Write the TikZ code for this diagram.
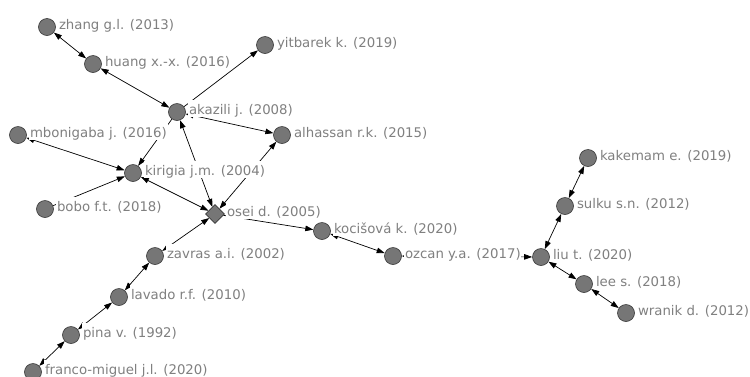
\documentclass[tikz,border=0pt]{standalone}
\usepackage{fontspec}
\setmainfont{DejaVu Sans}
\usetikzlibrary{arrows.meta,shapes.geometric}
\pgfdeclarelayer{edges}
\pgfsetlayers{edges,main}
\definecolor{nodefill}{RGB}{118,118,118}
\definecolor{nodeline}{RGB}{55,55,55}
\definecolor{labelgray}{RGB}{128,128,128}
% a paper: marker plus its caption to the right
\newcommand\citenode[5][paper]{%
  \node[#1] (#2) at (#3,#4) {};
  \node[lbl] (#2l) at ({#3+11},{#4+2}) {#5};}
\begin{document}
\begin{tikzpicture}[x=1pt,y=-1pt,
  paper/.style={circle,fill=nodefill,draw=nodeline,line width=0.6pt,minimum size=17pt,inner sep=0pt},
  hub/.style={diamond,fill=nodefill,draw=nodeline,line width=0.6pt,minimum size=19pt,inner sep=0pt},
  lbl/.style={fill=white,text=labelgray,inner xsep=0.8pt,inner ysep=0pt,text height=14pt,text depth=2.5pt,
    anchor=base west,font=\fontsize{13.3}{16}\selectfont},
  tipend/.tip={Triangle[length=8pt,width=5.5pt]},
  link/.style={draw=black,line width=0.7pt,-tipend},
  both/.style={draw=black,line width=0.7pt,tipend-tipend}]
\useasboundingbox (0,0) rectangle (750,376);
\begin{pgfonlayer}{edges}
  \fill[white] (0,0) rectangle (750,376);
\end{pgfonlayer}

% left component
\citenode{zhang}{47}{27}{zhang g.l. (2013)}
\citenode{huang}{93}{64}{huang x.-x. (2016)}
\citenode{yitbarek}{265}{45}{yitbarek k. (2019)}
\citenode{akazili}{177}{112}{akazili j. (2008)}
\citenode{alhassan}{282}{135}{alhassan r.k. (2015)}
\citenode{mbonigaba}{18}{135}{mbonigaba j. (2016)}
\citenode{kirigia}{133}{173}{kirigia j.m. (2004)}
\citenode{bobo}{45}{209}{bobo f.t. (2018)}
\citenode[hub]{osei}{215}{214}{osei d. (2005)}
\citenode{kocisova}{322}{231}{kocišová k. (2020)}
\citenode{ozcan}{393}{256}{ozcan y.a. (2017)}
\citenode{zavras}{155}{256}{zavras a.i. (2002)}
\citenode{lavado}{119}{297}{lavado r.f. (2010)}
\citenode{pina}{71}{335}{pina v. (1992)}
\citenode{franco}{33}{372}{franco-miguel j.l. (2020)}
% right component
\citenode{kakemam}{588}{158}{kakemam e. (2019)}
\citenode{sulku}{565}{206}{sulku s.n. (2012)}
\citenode{liu}{541}{257}{liu t. (2020)}
\citenode{lee}{584}{284}{lee s. (2018)}
\citenode{wranik}{626}{313}{wranik d. (2012)}

\begin{pgfonlayer}{edges}
  \draw[both] (zhang) -- (huang);
  \draw[both] (huang) -- (akazili);
  \draw[link] (akazili) -- (yitbarek);
  \draw[both] (akazili) -- (alhassan);
  \draw[link] (akazili) -- (kirigia);
  \draw[both] (mbonigaba) -- (kirigia);
  \draw[link] (bobo) -- (kirigia);
  \draw[both] (kirigia) -- (osei);
  \draw[both] (osei) -- (akazili);
  \draw[both] (osei) -- (alhassan);
  \draw[link] (osei) -- (kocisova);
  \draw[both] (kocisova) -- (ozcan);
  \draw[both] (ozcan) -- (liu);
  \draw[both] (liu) -- (sulku);
  \draw[both] (sulku) -- (kakemam);
  \draw[both] (liu) -- (lee);
  \draw[both] (lee) -- (wranik);
  \draw[both] (zavras) -- (osei);
  \draw[both] (lavado) -- (zavras);
  \draw[both] (pina) -- (lavado);
  \draw[both] (franco) -- (pina);
\end{pgfonlayer}
\end{tikzpicture}
\end{document}
